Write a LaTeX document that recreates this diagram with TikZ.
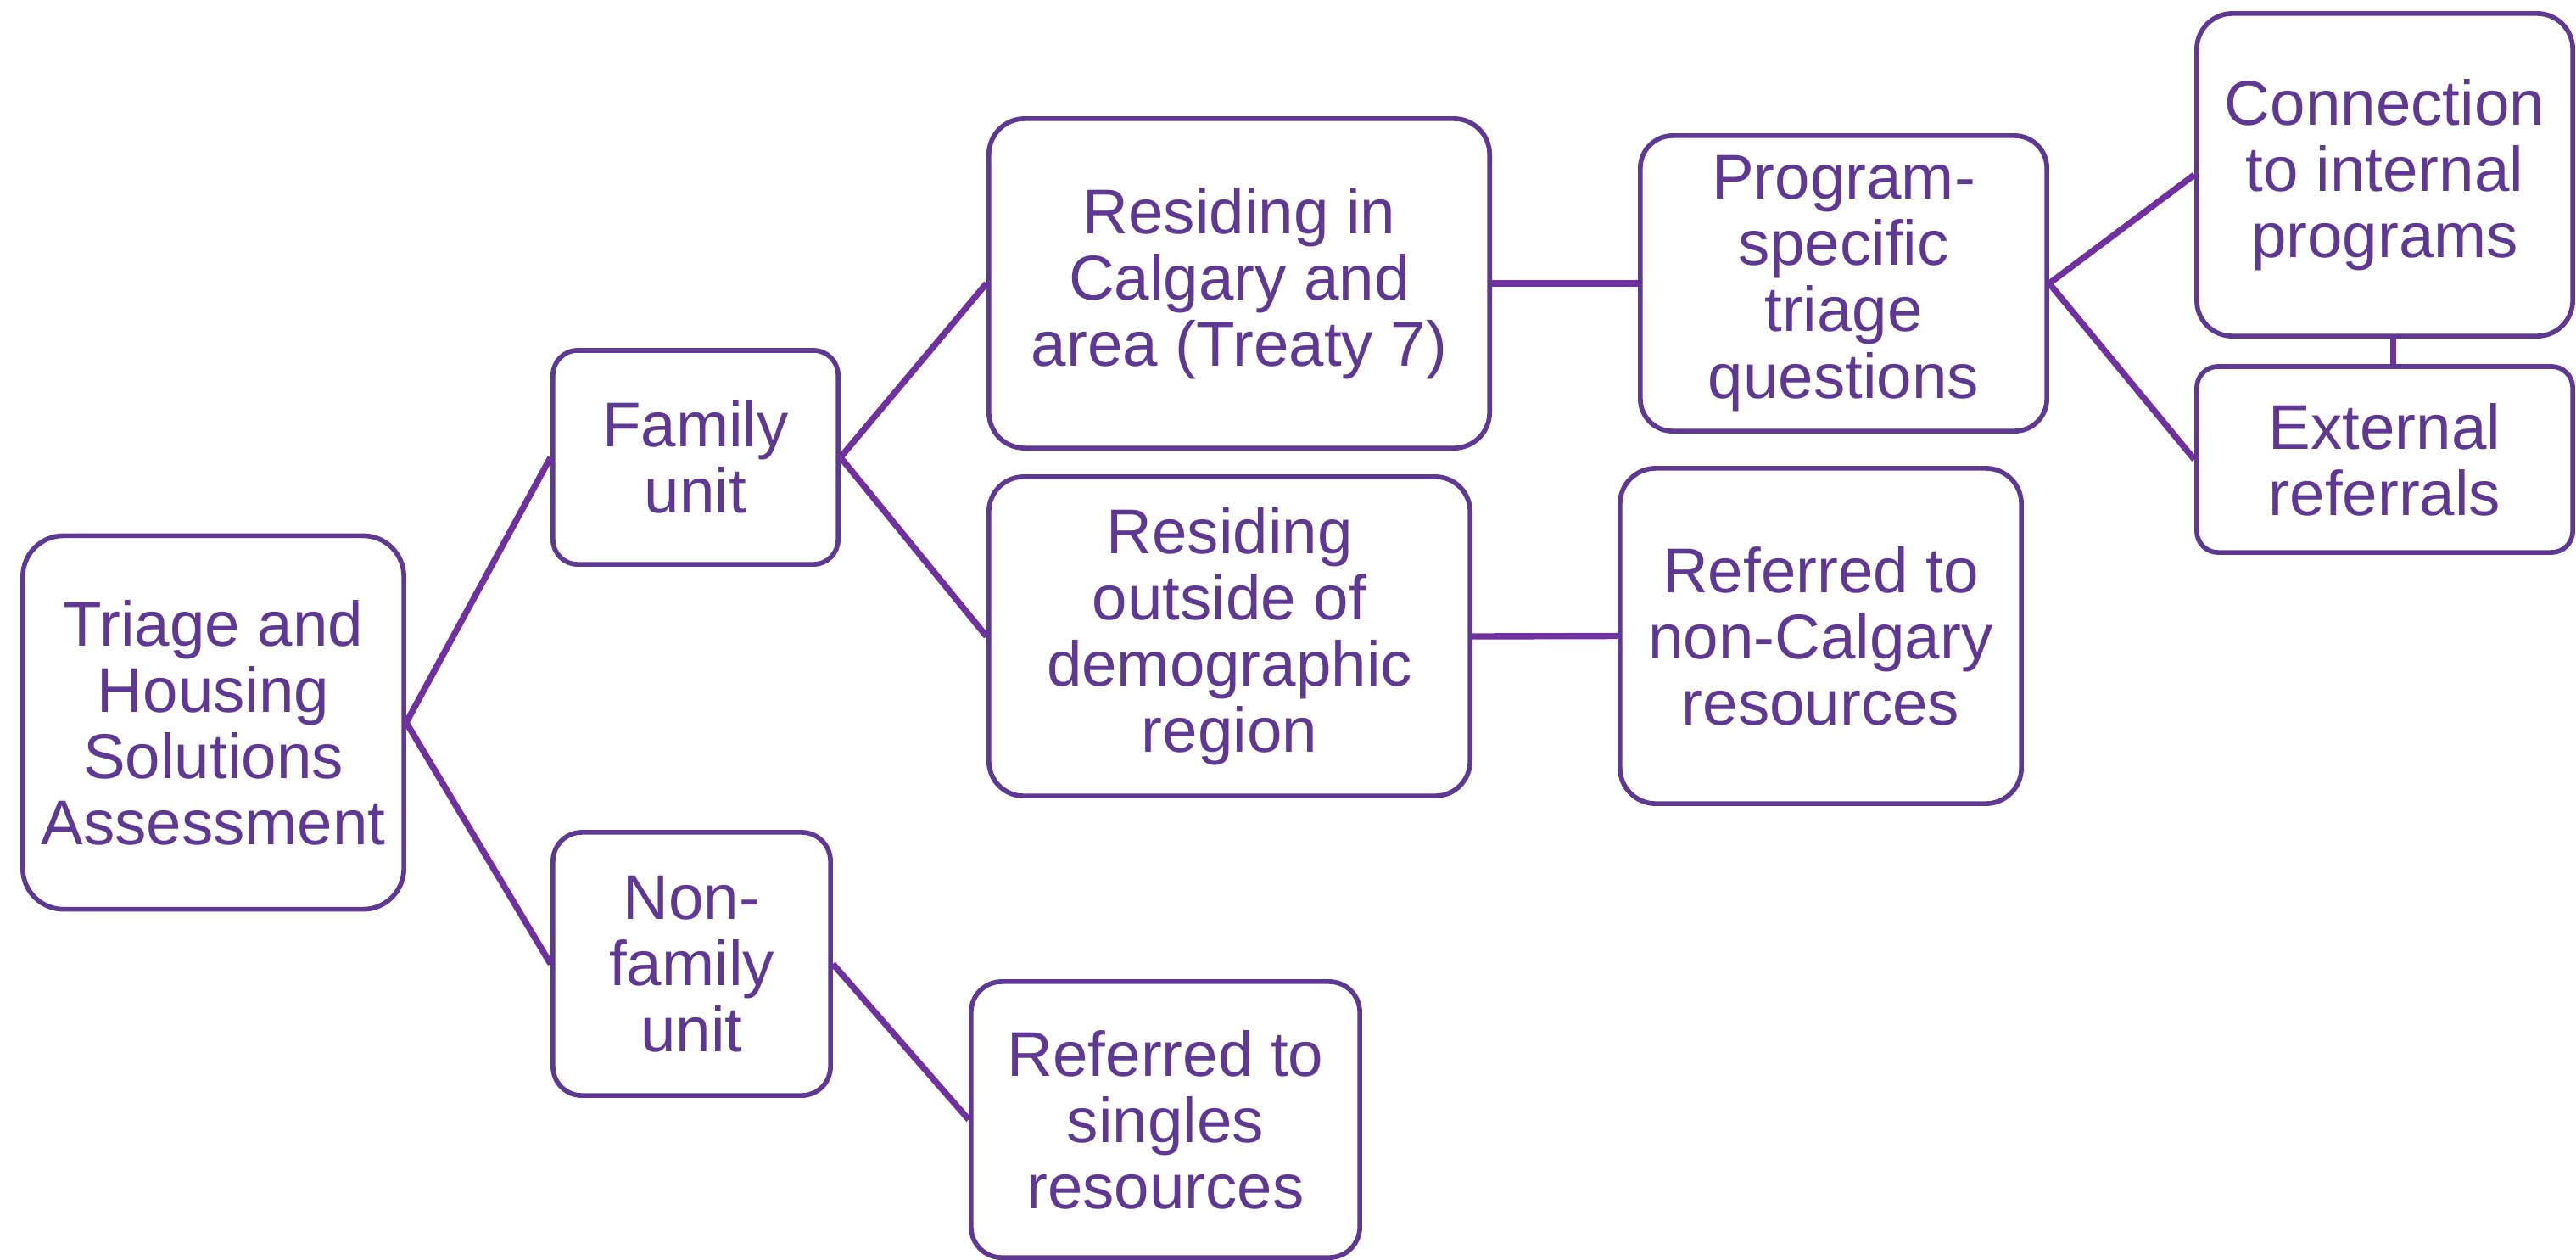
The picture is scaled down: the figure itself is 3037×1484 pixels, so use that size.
\documentclass[tikz,border=0pt]{standalone}
\usepackage{fontspec}
\setmainfont{Liberation Sans}
\usetikzlibrary{positioning}
\definecolor{boxpurple}{RGB}{94,56,147}
\definecolor{linepurple}{RGB}{112,48,160}

\begin{document}
\begin{tikzpicture}[x=0.01cm, y=-0.01cm,
    stage/.style={draw=boxpurple, text=boxpurple, line width=1.6pt, fill=white,
      align=center, inner sep=0pt, font=\fontsize{21.2}{22.2}\selectfont},
    branch/.style={draw=linepurple, line width=2.1pt}]
  \useasboundingbox (0,0) rectangle (3037,1484);

  % niveau 1 et 2
  \node[stage, minimum width=4.49cm, minimum height=4.40cm, rounded corners=0.48cm] (assess) at (251.5,851.5) {Triage and\\Housing\\Solutions\\Assessment};
  \node[stage, minimum width=3.36cm, minimum height=2.52cm, rounded corners=0.29cm] (family) at (820,539) {Family\\unit};
  \node[stage, minimum width=3.27cm, minimum height=3.10cm, rounded corners=0.34cm] (nonfamily) at (815.5,1136) {Non-\\family\\unit};

  % niveau 3
  \node[stage, minimum width=5.90cm, minimum height=3.88cm, rounded corners=0.42cm] (calgary) at (1461,334) {Residing in\\Calgary and\\area (Treaty 7)};
  \node[stage, minimum width=5.67cm, minimum height=3.76cm, rounded corners=0.41cm] (outside) at (1449.5,750) {Residing\\outside of\\demographic\\region};
  \node[stage, minimum width=4.58cm, minimum height=3.25cm, rounded corners=0.36cm] (singles) at (1374,1319.5) {Referred to\\singles\\resources};

  % niveau 4
  \node[stage, minimum width=4.79cm, minimum height=3.48cm, rounded corners=0.38cm] (program) at (2173.5,334) {Program-\\specific\\triage\\questions};
  \node[stage, minimum width=4.73cm, minimum height=3.95cm, rounded corners=0.42cm] (noncalgary) at (2146.5,749.5) {Referred to\\non-Calgary\\resources};

  % niveau 5
  \node[stage, minimum width=4.43cm, minimum height=3.80cm, rounded corners=0.42cm] (internal) at (2811.5,206) {Connection\\to internal\\programs};
  \node[stage, minimum width=4.43cm, minimum height=2.19cm, rounded corners=0.25cm] (external) at (2811.5,541.5) {External\\referrals};

  % liens
  \draw[branch] (assess.east) -- (family.west);
  \draw[branch] (assess.east) -- (nonfamily.west);
  \draw[branch] (family.east) -- (calgary.west);
  \draw[branch] (family.east) -- (outside.west);
  \draw[branch] (nonfamily.east) -- (singles.west);
  \draw[branch] (calgary.east) -- (program.west);
  \draw[branch] (outside.east) -- (noncalgary.west);
  \draw[branch] (program.east) -- (internal.west);
  \draw[branch] (program.east) -- (external.west);
  \draw[branch] ([xshift=0.1cm]internal.south) -- ([xshift=0.1cm]external.north);
\end{tikzpicture}
\end{document}
